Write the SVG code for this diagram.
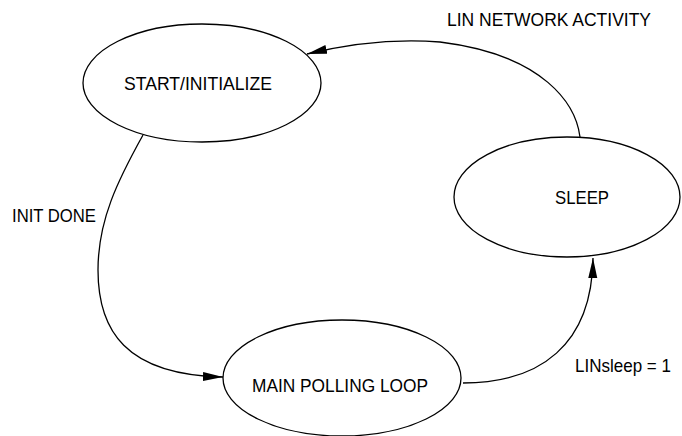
<svg xmlns="http://www.w3.org/2000/svg" width="682" height="436" viewBox="0 0 682 436">
<style>
.node{fill:#fff;stroke:#000;stroke-width:1.3}
.edge{fill:none;stroke:#000;stroke-width:1.3}
text{font-family:"Liberation Sans",Arial,sans-serif;font-size:19px;fill:#000}
</style>
<defs>
<marker id="arr" markerUnits="userSpaceOnUse" markerWidth="22" markerHeight="10" refX="20" refY="4.5" orient="auto">
<path d="M0,0 L20,4.5 L0,9 Z" fill="#000"/>
</marker>
</defs>
<rect width="682" height="436" fill="#fff"/>
<g id="n-start"><ellipse class="node" cx="202" cy="83" rx="119" ry="59"/><text x="124" y="90" textLength="148" lengthAdjust="spacingAndGlyphs">START/INITIALIZE</text></g>
<g id="n-sleep"><ellipse class="node" cx="567" cy="197" rx="113" ry="60"/><text x="555" y="204" textLength="54" lengthAdjust="spacingAndGlyphs">SLEEP</text></g>
<g id="n-main"><ellipse class="node" cx="342" cy="378" rx="119" ry="58"/><text x="252" y="391.5" textLength="176" lengthAdjust="spacingAndGlyphs">MAIN POLLING LOOP</text></g>
<g id="connectors">
<path class="edge" d="M580,137 C576,105 545,55 440,42 C390,38 340,46 307,54" marker-end="url(#arr)"/>
<path class="edge" d="M143,135 C118,180 98,220 98,270 C98,330 125,375 223,377" marker-end="url(#arr)"/>
<path class="edge" d="M463,383 C540,383 592,345 593,258" marker-end="url(#arr)"/>
<text x="447" y="25.5" textLength="204" lengthAdjust="spacingAndGlyphs">LIN NETWORK ACTIVITY</text>
<text x="12" y="221.5" textLength="84" lengthAdjust="spacingAndGlyphs">INIT DONE</text>
<text x="575" y="371.5" textLength="96" lengthAdjust="spacingAndGlyphs">LINsleep = 1</text>
</g>
</svg>
